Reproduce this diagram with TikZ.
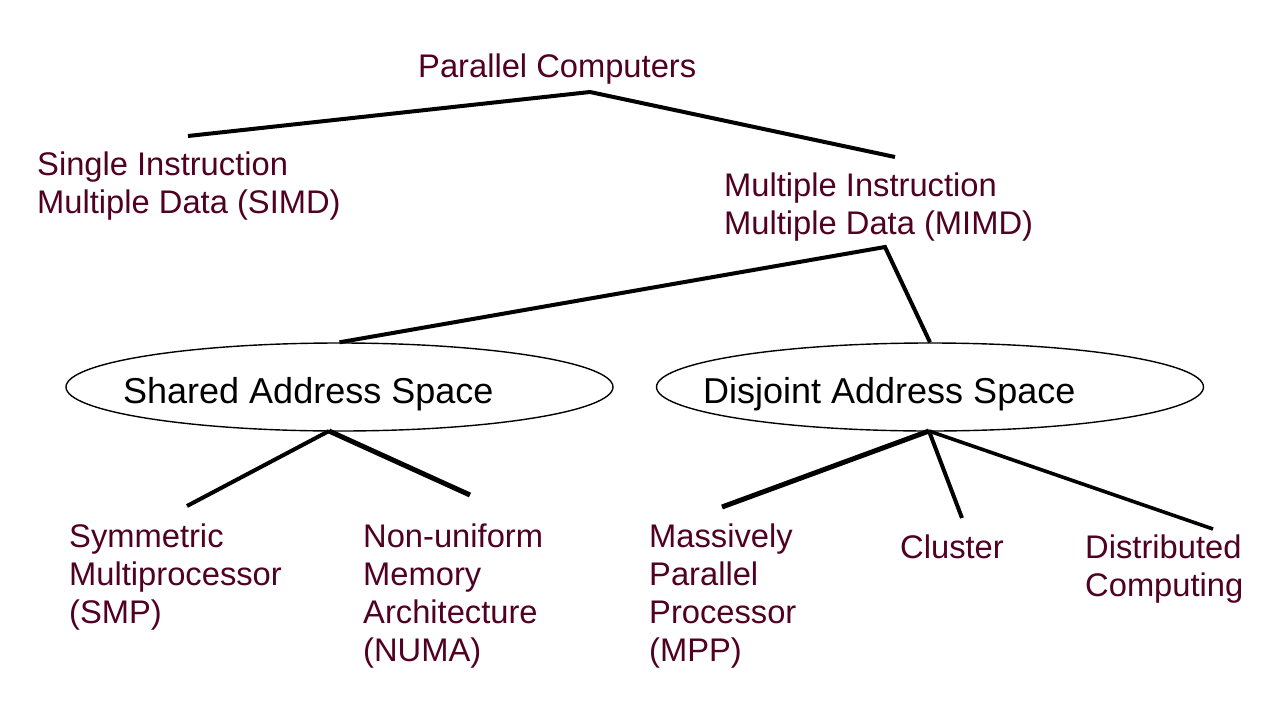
\documentclass[tikz,border=0pt]{standalone}
\usepackage{fontspec}
\setmainfont{Liberation Sans}
\usetikzlibrary{shapes.geometric}
\definecolor{maroon}{RGB}{80,0,35}
\newcommand{\lines}[1]{\begin{tabular}[t]{@{}l@{}}#1\end{tabular}}
\begin{document}
\begin{tikzpicture}[x=1pt,y=-1pt,
  lbl/.style={inner sep=0pt, anchor=base west, text=maroon, font=\fontsize{32.7}{38}\selectfont},
  elltext/.style={inner sep=0pt, anchor=base west, text=black, font=\fontsize{36}{43}\selectfont},
  oval/.style={ellipse, draw, line width=1.4pt, minimum width=547pt, minimum height=88pt, inner sep=0pt},
  branch/.style={line width=4pt}]
\useasboundingbox[fill=white] (0,0) rectangle (1270,702);

% texts
\node[lbl] (pc) at (418,77) {Parallel Computers};
\node[lbl] (simd) at (37,175) {\lines{Single Instruction\\Multiple Data (SIMD)}};
\node[lbl] (mimd) at (724,196) {\lines{Multiple Instruction\\Multiple Data (MIMD)}};
\node[lbl] (smp) at (69,547) {\lines{Symmetric\\Multiprocessor\\(SMP)}};
\node[lbl] (numa) at (363,547) {\lines{Non-uniform\\Memory\\Architecture\\(NUMA)}};
\node[lbl] (mpp) at (649,547) {\lines{Massively\\Parallel\\Processor\\(MPP)}};
\node[lbl] (cluster) at (900,558) {Cluster};
\node[lbl] (dist) at (1085,558) {\lines{Distributed\\Computing}};

% ellipses
\node[oval] (sas) at (339.5,387) {};
\node[elltext] (sast) at (123,403) {Shared Address Space};
\node[oval] (das) at (930,387) {};
\node[elltext] (dast) at (703,403) {Disjoint Address Space};

% connector points
\coordinate (pcapex) at (590,92);
\coordinate (simdend) at (188,136);
\coordinate (mimdend) at (895,157);
\coordinate (mimdapex) at (885,247);
\coordinate (sasapex) at (329,431);
\coordinate (smpend) at (187,506);
\coordinate (numaend) at (470,495);
\coordinate (dasapex) at (929,431);
\coordinate (mppend) at (722,507);
\coordinate (clusterend) at (962,518);
\coordinate (distend) at (1213,529);

% connectors
\draw[branch] (simdend) -- (pcapex) -- (mimdend);
\draw[branch] (sas.north) -- (mimdapex) -- (das.north);
\draw[branch] (smpend) -- (sasapex);
\draw[branch, line width=5pt] (sasapex) -- (numaend);
\draw[branch, line width=5pt] (mppend) -- (dasapex);
\draw[branch] (dasapex) -- (clusterend);
\draw[branch, line width=3.6pt] (dasapex) -- (distend);
\end{tikzpicture}
\end{document}
